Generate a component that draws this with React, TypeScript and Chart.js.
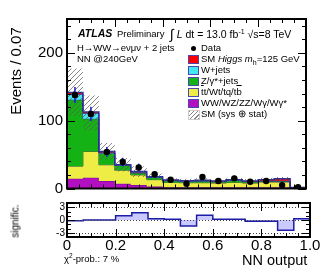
import React, { useEffect, useRef } from "react";
import { Chart, registerables } from "chart.js";

Chart.register(...registerables);

const FONT = '"Liberation Sans", Arial, Helvetica, sans-serif';

// ---------------- data ----------------
const xMin = 0;
const xMax = 1;
const nBins = 15;

// stacked backgrounds (bottom -> top), events per bin
const wwValues = [14.5, 16, 11, 7, 5, 3, 2, 2, 2, 2, 2, 2, 2, 2, 0.5];
const topValues = [18.5, 38.6, 24, 20, 15, 10, 7, 6.5, 6.5, 6, 7, 6, 7.5, 7.5, 0.7];
const zjetsValues = [98, 48.4, 17, 7, 3, 3.5, 2.5, 2, 2.5, 2, 3, 2, 1.5, 1.5, 0.1];
const wjetsValues = [8, 8, 1, 0.5, 1, 0.5, 0.5, 0.5, 0.5, 0.5, 0.5, 0.5, 0.5, 0.5, 0.1];
const higgsValues = [2.6, 2, 1.6, 0.5, 1, 0.5, 0.5, 0.5, 0.5, 0.5, 0.5, 0.5, 1.5, 3, 0.1];

// observed data
const dataValues = [138, 110, 54, 39, 31, 21, 13, 7, 17, 11, 15, 10, 11, 5, 2];

// SM (sys ⊕ stat) band
const bandLow = [107, 85, 42, 25, 17, 13, 10, 8.5, 9, 8, 10, 8, 10, 11, 0.5];
const bandHigh = [177, 137, 67, 45, 33, 22, 15, 14.5, 15, 14, 16, 14, 16, 17, 2.5];

// significance (lower panel)
const signifValues = [-0.2, 0, 0, 1.0, 1.7, 0.3, 0.15, -1.4, 1.1, 0.15, 0.15, -0.3, -0.3, -2.4, 0.3];

const mainYTicks = [0, 100, 200];
const sigYTicks = [-3, 0, 3];

// ---------------- helpers ----------------
const binEdges = Array.from({ length: nBins + 1 }, (_, i) => xMin + ((xMax - xMin) * i) / nBins);
const binCenters = Array.from({ length: nBins }, (_, i) => (binEdges[i] + binEdges[i + 1]) / 2);

function stepPoints(values: number[]) {
  return binEdges.map((x, i) => ({ x, y: values[Math.min(i, values.length - 1)] }));
}

function cumulate(layers: number[][]) {
  const out: number[][] = [];
  let run = new Array(nBins).fill(0);
  for (const l of layers) {
    run = run.map((v, i) => v + l[i]);
    out.push(run.slice());
  }
  return out;
}

function makeHatch(): CanvasPattern | string {
  const c = document.createElement("canvas");
  c.width = 5;
  c.height = 5;
  const g = c.getContext("2d");
  if (!g) return "rgba(0,0,0,0.2)";
  g.strokeStyle = "rgba(90,90,90,0.9)";
  g.lineWidth = 0.8;
  g.beginPath();
  g.moveTo(-1, 6);
  g.lineTo(6, -1);
  g.moveTo(-1, 1);
  g.lineTo(1, -1);
  g.moveTo(4, 6);
  g.lineTo(6, 4);
  g.stroke();
  return g.createPattern(c, "repeat") || "rgba(0,0,0,0.2)";
}

function framePlugin(cfg: { xMajor: number; xMinor: number; yMajor: number; yMinor: number; dotted?: number[] }) {
  return {
    id: "frameTicks",
    afterDatasetsDraw(chart: any) {
      const { ctx, chartArea: a, scales } = chart;
      const xs = scales.x;
      const ys = scales.y;
      ctx.save();
      if (cfg.dotted) {
        ctx.strokeStyle = "#444";
        ctx.lineWidth = 1;
        ctx.setLineDash([1, 2]);
        for (const v of cfg.dotted) {
          const py = Math.round(ys.getPixelForValue(v)) + 0.5;
          ctx.beginPath();
          ctx.moveTo(a.left, py);
          ctx.lineTo(a.right, py);
          ctx.stroke();
        }
        ctx.setLineDash([]);
      }
      ctx.strokeStyle = "#000";
      ctx.lineWidth = 1;
      const seg = (x1: number, y1: number, x2: number, y2: number) => {
        ctx.beginPath();
        ctx.moveTo(x1, y1);
        ctx.lineTo(x2, y2);
        ctx.stroke();
      };
      const nx = Math.round((xs.max - xs.min) / cfg.xMinor);
      for (let i = 0; i <= nx; i++) {
        const v = xs.min + i * cfg.xMinor;
        const px = Math.round(xs.getPixelForValue(v)) + 0.5;
        const r = v / cfg.xMajor;
        const len = Math.abs(r - Math.round(r)) < 1e-6 ? 8 : 4;
        seg(px, a.bottom, px, a.bottom - len);
        seg(px, a.top, px, a.top + len);
      }
      const y0 = Math.ceil(ys.min / cfg.yMinor - 1e-9);
      const y1 = Math.floor(ys.max / cfg.yMinor + 1e-9);
      for (let k = y0; k <= y1; k++) {
        const v = k * cfg.yMinor;
        const py = Math.round(ys.getPixelForValue(v)) + 0.5;
        const r = v / cfg.yMajor;
        const len = Math.abs(r - Math.round(r)) < 1e-6 ? 8 : 4;
        seg(a.left, py, a.left + len, py);
        seg(a.right, py, a.right - len, py);
      }
      ctx.lineWidth = 2;
      ctx.strokeRect(a.left, a.top, a.right - a.left, a.bottom - a.top);
      ctx.restore();
    },
  };
}

const errorBarPlugin = {
  id: "errorBars",
  beforeDatasetDraw(chart: any, args: any) {
    const ds = chart.data.datasets[args.index];
    if (ds.label !== "Data") return;
    const { ctx, scales } = chart;
    ctx.save();
    ctx.strokeStyle = "#1a1ad0";
    ctx.lineWidth = 1.5;
    dataValues.forEach((v, i) => {
      const e = Math.sqrt(v);
      const px = scales.x.getPixelForValue(binCenters[i]);
      ctx.beginPath();
      ctx.moveTo(px, scales.y.getPixelForValue(Math.max(v - e, 0)));
      ctx.lineTo(px, scales.y.getPixelForValue(v + e));
      ctx.stroke();
    });
    ctx.restore();
  },
};

const COLORS = {
  ww: "#b20fc0",
  top: "#eded45",
  zjets: "#14b214",
  wjets: "#44e8f2",
  higgs: "#ff0000",
};
const EDGE = "#2b2b9a";

function MainChart() {
  const ref = useRef<HTMLCanvasElement | null>(null);
  useEffect(() => {
    if (!ref.current) return;
    const layers = [wwValues, topValues, zjetsValues, wjetsValues, higgsValues];
    const cols = [COLORS.ww, COLORS.top, COLORS.zjets, COLORS.wjets, COLORS.higgs];
    const edges = ["#6d0c8a", "#5a5a40", EDGE, EDGE, EDGE];
    const names = ["WW/WZ/ZZ/Wγ/Wγ*", "tt̄/Wt/tq/tb̄", "Z/γ*+jets", "W+jets", "SM Higgs"];
    const cum = cumulate(layers);
    const hatch = makeHatch();
    const stackSets = cum.map((vals, k) => ({
      type: "line" as const,
      label: names[k],
      data: stepPoints(vals),
      stepped: true,
      borderColor: edges[k],
      borderWidth: k === cum.length - 1 ? 1.5 : 1,
      backgroundColor: cols[k],
      fill: k === 0 ? "origin" : "-1",
      pointRadius: 0,
      order: 20 - k,
    }));
    const chart = new Chart(ref.current, {
      type: "line",
      data: {
        datasets: [
          ...stackSets,
          {
            label: "bandHigh",
            data: stepPoints(bandHigh),
            stepped: true,
            borderWidth: 0,
            borderColor: "rgba(0,0,0,0)",
            pointRadius: 0,
            fill: false,
            order: 5,
          },
          {
            label: "SM (sys ⊕ stat)",
            data: stepPoints(bandLow),
            stepped: true,
            borderWidth: 0,
            borderColor: "rgba(0,0,0,0)",
            backgroundColor: hatch as any,
            pointRadius: 0,
            fill: "-1",
            order: 4,
          },
          {
            label: "Data",
            data: binCenters.map((x, i) => ({ x, y: dataValues[i] })),
            showLine: false,
            pointRadius: 3.2,
            pointBackgroundColor: "#000",
            pointBorderWidth: 0,
            borderColor: "#000",
            order: 0,
          },
        ] as any,
      },
      options: {
        animation: false,
        responsive: false,
        maintainAspectRatio: false,
        layout: { padding: { left: 0, right: 17, top: 19, bottom: 9 } },
        plugins: { legend: { display: false }, tooltip: { enabled: false } },
        scales: {
          x: { type: "linear", min: xMin, max: xMax, display: false },
          y: {
            type: "linear",
            min: 0,
            max: 250,
            afterBuildTicks: (s: any) => {
              s.ticks = mainYTicks.map((value) => ({ value }));
            },
            afterFit: (s: any) => {
              s.width = 67;
            },
            grid: { display: false, drawTicks: false },
            border: { display: false },
            ticks: { color: "#000", font: { family: FONT, size: 15, lineHeight: 1 }, padding: 4 },
          },
        },
      } as any,
      plugins: [framePlugin({ xMajor: 0.2, xMinor: 0.05, yMajor: 100, yMinor: 20 }), errorBarPlugin],
    });
    return () => chart.destroy();
  }, []);
  return <canvas ref={ref} width={323} height={200} style={{ position: "absolute", left: 0, top: 0 }} />;
}

function SignifChart() {
  const ref = useRef<HTMLCanvasElement | null>(null);
  useEffect(() => {
    if (!ref.current) return;
    const chart = new Chart(ref.current, {
      type: "line",
      data: {
        datasets: [
          {
            label: "significance",
            data: stepPoints(signifValues),
            stepped: true,
            borderColor: "#1c1ca8",
            borderWidth: 1.5,
            backgroundColor: "#cacaff",
            fill: "origin",
            pointRadius: 0,
          },
        ],
      },
      options: {
        animation: false,
        responsive: false,
        maintainAspectRatio: false,
        layout: { padding: { left: 0, right: 13, top: 6, bottom: 0 } },
        plugins: { legend: { display: false }, tooltip: { enabled: false } },
        scales: {
          x: {
            type: "linear",
            min: xMin,
            max: xMax,
            afterFit: (s: any) => {
              s.height = 36;
            },
            grid: { display: false, drawTicks: false },
            border: { display: false },
            ticks: { stepSize: 0.2, color: "#000", font: { family: FONT, size: 15 }, padding: 0, maxRotation: 0 },
          },
          y: {
            type: "linear",
            min: -4,
            max: 4,
            afterBuildTicks: (s: any) => {
              s.ticks = sigYTicks.map((value) => ({ value }));
            },
            afterFit: (s: any) => {
              s.width = 67;
            },
            grid: { display: false, drawTicks: false },
            border: { display: false },
            ticks: { color: "#000", font: { family: FONT, size: 10 }, padding: 2 },
          },
        },
      } as any,
      plugins: [framePlugin({ xMajor: 0.2, xMinor: 0.05, yMajor: 3, yMinor: 1, dotted: sigYTicks })],
    });
    return () => chart.destroy();
  }, []);
  return <canvas ref={ref} width={323} height={78} style={{ position: "absolute", left: 0, top: 195 }} />;
}

const txt = (left: number, cy: number, size: number, extra: React.CSSProperties = {}): React.CSSProperties => ({
  position: "absolute",
  left,
  top: cy - size * 0.6,
  fontSize: size,
  lineHeight: `${size * 1.2}px`,
  whiteSpace: "nowrap",
  fontFamily: FONT,
  color: "#000",
  ...extra,
});

function Swatch({ cy, bg }: { cy: number; bg: string }) {
  return (
    <div
      style={{
        position: "absolute",
        left: 188,
        top: cy - 4,
        width: 9,
        height: 7,
        background: bg,
        border: "1px solid #4848b0",
      }}
    />
  );
}

function Overlay() {
  const legendX = 201;
  const fs = 9.5;
  return (
    <>
      <div style={txt(78, 33, 10.5, { fontWeight: "bold", fontStyle: "italic" })}>ATLAS</div>
      <div style={txt(117, 34, 9.5)}>Preliminary</div>
      <div style={txt(170, 33, 10.5)}>
        <span style={{ fontSize: 14, position: "relative", top: 1 }}>∫</span> <i>L</i> dt = 13.0 fb
        <span style={{ fontSize: 7, position: "relative", top: -4 }}>-1</span>
        {"  "}√s=8 TeV
      </div>
      <div style={txt(77, 48, 9.5)}>H→WW→eνμν + 2 jets</div>
      <div style={txt(77, 59, 9.5)}>NN @240GeV</div>

      <div
        style={{
          position: "absolute",
          left: 190.5,
          top: 45.5,
          width: 5,
          height: 5,
          borderRadius: "50%",
          background: "#000",
        }}
      />
      <div style={txt(legendX, 48, fs)}>Data</div>
      <Swatch cy={59} bg={COLORS.higgs} />
      <div style={txt(legendX, 59, fs)}>
        SM <i>Higgs</i> <i>m</i>
        <span style={{ fontSize: 7, position: "relative", top: 3 }}>h</span>=125 GeV
      </div>
      <Swatch cy={70} bg={COLORS.wjets} />
      <div style={txt(legendX, 70, fs)}>W+jets</div>
      <Swatch cy={81} bg={COLORS.zjets} />
      <div style={txt(legendX, 81, fs)}>Z/γ*+jets</div>
      <Swatch cy={92} bg={COLORS.top} />
      <div style={txt(legendX, 92, fs)}>
        <span style={{ textDecoration: "overline" }}>t</span>t/Wt/tq/t<span style={{ textDecoration: "overline" }}>b</span>
      </div>
      <Swatch cy={103} bg={COLORS.ww} />
      <div style={txt(legendX, 103, fs)}>WW/WZ/ZZ/Wγ/Wγ*</div>
      <div
        style={{
          position: "absolute",
          left: 188,
          top: 110,
          width: 10,
          height: 8,
          background: "repeating-linear-gradient(135deg, #888 0 1px, transparent 1px 3px)",
          border: "1px solid #ccc",
        }}
      />
      <div style={txt(legendX, 114, fs)}>SM (sys ⊕ stat)</div>

      <div
        style={{
          position: "absolute",
          left: 15,
          top: 71,
          transform: "translate(-50%, -50%) rotate(-90deg)",
          fontSize: 15,
          fontFamily: FONT,
          whiteSpace: "nowrap",
        }}
      >
        Events / 0.07
      </div>
      <div
        style={{
          position: "absolute",
          left: 15,
          top: 221,
          transform: "translate(-50%, -50%) rotate(-90deg)",
          fontSize: 10,
          fontFamily: FONT,
          whiteSpace: "nowrap",
        }}
      >
        signific.
      </div>
      <div style={txt(242, 261, 14.5)}>NN output</div>
      <div style={txt(64, 259, 9.5)}>
        χ<span style={{ fontSize: 6.5, position: "relative", top: -4 }}>2</span>-prob.: 7 %
      </div>
    </>
  );
}

export default function App() {
  return (
    <div style={{ position: "absolute", left: 0, top: 0, width: 323, height: 273, background: "#fff", overflow: "hidden" }}>
      <MainChart />
      <SignifChart />
      <Overlay />
    </div>
  );
}
